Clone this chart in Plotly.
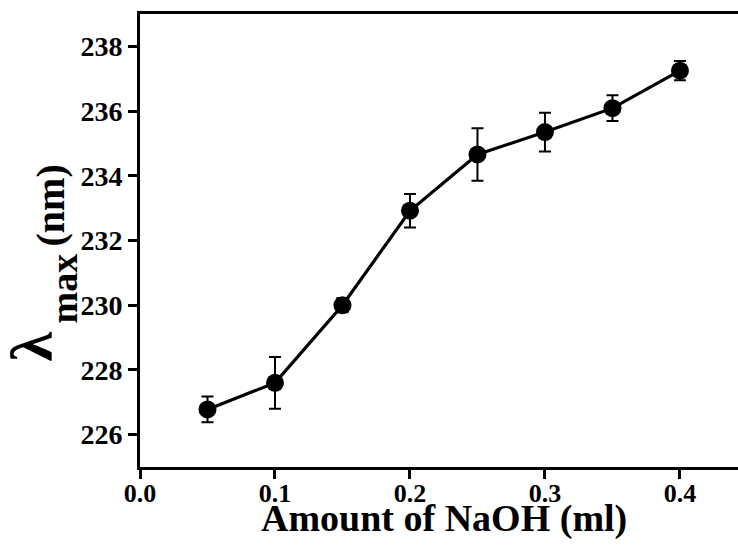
import plotly.graph_objects as go

# NaOH volume (ml) and measured absorption maximum (nm) with error
naoh_ml = [0.05, 0.10, 0.15, 0.20, 0.25, 0.30, 0.35, 0.40]
lambda_max = [226.78, 227.60, 230.00, 232.92, 234.66, 235.35, 236.09, 237.25]
lambda_err = [0.40, 0.80, 0.22, 0.52, 0.81, 0.60, 0.40, 0.30]

x_ticks = [0.0, 0.1, 0.2, 0.3, 0.4]
x_tick_text = ["<b>0.0</b>", "<b>0.1</b>", "<b>0.2</b>", "<b>0.3</b>", "<b>0.4</b>"]
y_ticks = [226, 228, 230, 232, 234, 236, 238]
y_tick_text = ["<b>%d</b>" % v for v in y_ticks]

FONT = "'Liberation Serif', 'Times New Roman', serif"

fig = go.Figure()
fig.add_trace(go.Scatter(
    x=naoh_ml,
    y=lambda_max,
    mode="lines+markers",
    line=dict(color="black", width=3.2),
    marker=dict(color="black", size=18),
    error_y=dict(type="data", array=lambda_err, visible=True,
                 color="black", thickness=2, width=6),
    showlegend=False,
))

axis_common = dict(
    showline=True, linecolor="black", linewidth=3,
    ticks="outside", ticklen=9, tickwidth=2.5, tickcolor="black",
    showgrid=False, zeroline=False,
)

fig.update_layout(
    width=738, height=550,
    margin=dict(l=140, r=0, t=14, b=83),
    paper_bgcolor="white", plot_bgcolor="white",
    font=dict(family=FONT, color="black"),
    xaxis=dict(range=[0, 0.443], tickvals=x_ticks, ticktext=x_tick_text,
               mirror=True, ticklabelstandoff=-8,
               tickfont=dict(family=FONT, size=26, color="black"),
               **axis_common),
    yaxis=dict(range=[225, 239], tickvals=y_ticks, ticktext=y_tick_text,
               tickfont=dict(family=FONT, size=28, color="black"),
               **axis_common),
)

# x-axis title
fig.add_annotation(text="<b>Amount of NaOH (ml)</b>", xref="paper", yref="paper",
                   x=0.5, y=0, xanchor="center", yanchor="middle",
                   xshift=5, yshift=-51, showarrow=False,
                   font=dict(family=FONT, size=38, color="black"))

# y-axis title: large lambda, lowered "max", then "(nm)"
y_title_parts = [
    ("<b>λ</b>", 60, -109, -106),
    ("<b>max</b>", 38, -77, -48),
    ("<b>(nm)</b>", 40, -90, 35),
]
for txt, size, dx, dy in y_title_parts:
    fig.add_annotation(text=txt, xref="paper", yref="paper", x=0, y=0.5,
                       xanchor="center", yanchor="middle", textangle=-90,
                       xshift=dx, yshift=dy, showarrow=False,
                       font=dict(family=FONT, size=size, color="black"))

fig.write_html("out.html")
